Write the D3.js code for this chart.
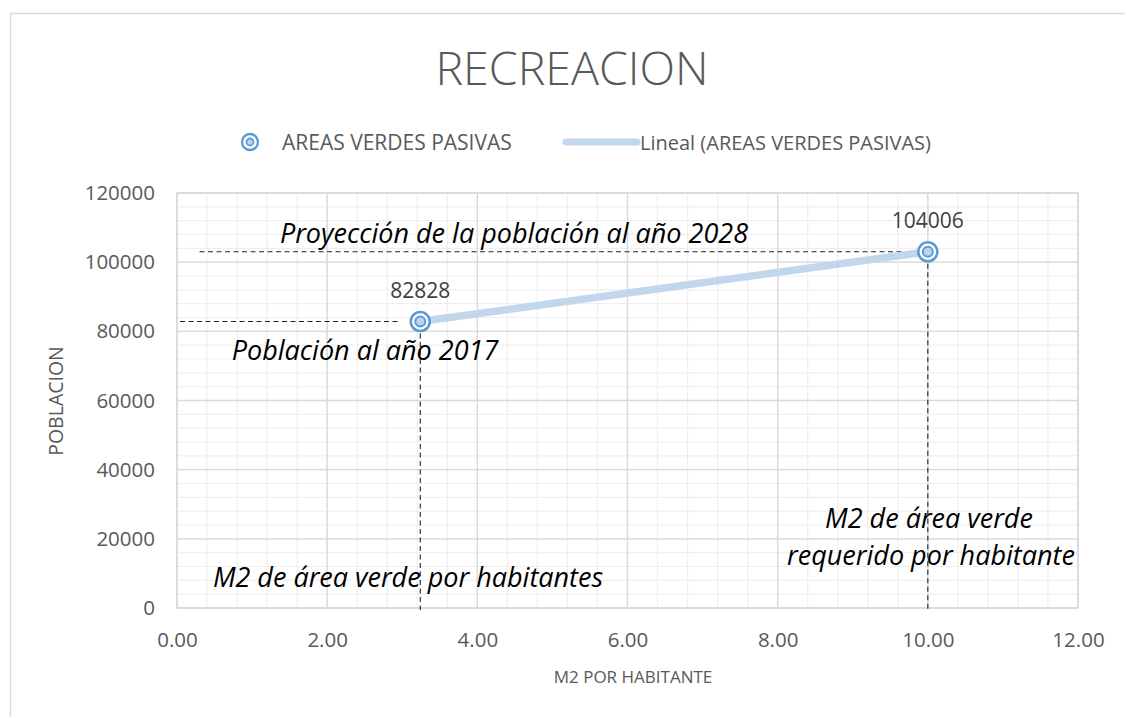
<!DOCTYPE html>
<html>
  <head>
    <meta http-equiv="Content-Type" content="text/html;charset=utf-8"/>
    <title>RECREACION</title>
    <script src="https://d3js.org/d3.v7.min.js"></script>
    <style>
      body { margin: 0; background: #fff; }
      text { font-family: "Open Sans", sans-serif; }
    </style>
  </head>
  <body>
    <div id="chart"></div>
    <script type="text/javascript">
      // data
      const xValues = [3.24, 10.0]
      const yValues = [82828, 103006]
      const pointLabels = ['82828', '104006']
      const xTicks = [0, 2, 4, 6, 8, 10, 12]
      const yTicks = [0, 20000, 40000, 60000, 80000, 100000, 120000]
      const seriesName = 'AREAS VERDES PASIVAS'
      const trendName = 'Lineal (AREAS VERDES PASIVAS)'

      const width = 1125, height = 717
      const plotLeft = 177, plotRight = 1078, plotTop = 193, plotBottom = 608
      const blue = '#5b9bd5', trendColor = '#c2d6ec'

      const svg = d3.select('#chart').append('svg').attr('width', width).attr('height', height)

      // chart outer border
      svg.append('rect').attr('x', 10.5).attr('y', 13.5).attr('width', 1130).attr('height', 720)
        .attr('fill', '#fff').attr('stroke', '#d9d9d9').attr('stroke-width', 1.5)

      const x = d3.scaleLinear().domain([0, 12]).range([plotLeft, plotRight])
      const y = d3.scaleLinear().domain([0, 120000]).range([plotBottom, plotTop])

      // minor grid
      const g = svg.append('g')
      const minorX = d3.range(0, 12.001, 0.4)
      const minorY = d3.range(0, 120001, 4000)
      g.selectAll('.mx').data(minorX).enter().append('line')
        .attr('x1', d => x(d)).attr('x2', d => x(d)).attr('y1', plotTop).attr('y2', plotBottom)
        .attr('stroke', '#efefef').attr('stroke-width', 1.2)
      g.selectAll('.my').data(minorY).enter().append('line')
        .attr('x1', plotLeft).attr('x2', plotRight).attr('y1', d => y(d)).attr('y2', d => y(d))
        .attr('stroke', '#efefef').attr('stroke-width', 1.2)
      // major grid
      g.selectAll('.Mx').data(xTicks).enter().append('line')
        .attr('x1', d => x(d)).attr('x2', d => x(d)).attr('y1', plotTop).attr('y2', plotBottom)
        .attr('stroke', '#d9d9d9').attr('stroke-width', 1.3)
      g.selectAll('.My').data(yTicks).enter().append('line')
        .attr('x1', plotLeft).attr('x2', plotRight).attr('y1', d => y(d)).attr('y2', d => y(d))
        .attr('stroke', '#d9d9d9').attr('stroke-width', 1.3)
      g.append('rect').attr('x', plotLeft).attr('y', plotTop).attr('width', plotRight - plotLeft).attr('height', plotBottom - plotTop)
        .attr('fill', 'none').attr('stroke', '#d9d9d9').attr('stroke-width', 1.3)

      // axes labels
      const xAxis = d3.axisBottom(x).tickValues(xTicks).tickFormat(d3.format('.2f')).tickSize(0).tickPadding(24)
      const yAxis = d3.axisLeft(y).tickValues(yTicks).tickFormat(d3.format('d')).tickSize(0).tickPadding(22)
      const gx = svg.append('g').attr('transform', 'translate(0,' + plotBottom + ')').call(xAxis)
      const gy = svg.append('g').attr('transform', 'translate(' + plotLeft + ',0)').call(yAxis)
      ;[gx, gy].forEach(a => {
        a.select('.domain').remove()
        a.selectAll('text').attr('fill', '#595959').style('font-size', '20.5px').style('font-family', '"Open Sans", sans-serif')
      })

      // title and axis titles
      svg.append('text').attr('x', 572).attr('y', 85).attr('text-anchor', 'middle')
        .attr('fill', '#595959').style('font-size', '46.5px').style('font-weight', 300).text('RECREACION')
      svg.append('text').attr('x', 633).attr('y', 683).attr('text-anchor', 'middle')
        .attr('fill', '#595959').style('font-size', '17px').text('M2 POR HABITANTE')
      svg.append('text').attr('transform', 'translate(63,401) rotate(-90)').attr('text-anchor', 'middle')
        .attr('fill', '#595959').style('font-size', '19.5px').text('POBLACION')

      // legend
      const lg = svg.append('g')
      lg.append('circle').attr('cx', 250).attr('cy', 142).attr('r', 8).attr('fill', '#fff').attr('stroke', blue).attr('stroke-width', 2.3)
      lg.append('circle').attr('cx', 250).attr('cy', 142).attr('r', 3.5).attr('fill', '#bdd3ea').attr('stroke', blue).attr('stroke-width', 1.8)
      lg.append('text').attr('x', 282).attr('y', 149.5).attr('fill', '#595959').style('font-size', '21px').text(seriesName)
      lg.append('line').attr('x1', 566).attr('x2', 637).attr('y1', 142).attr('y2', 142)
        .attr('stroke', trendColor).attr('stroke-width', 7).attr('stroke-linecap', 'round')
      lg.append('text').attr('x', 640).attr('y', 149.5).attr('fill', '#595959').style('font-size', '20px').text(trendName)

      // dashed guide lines
      const dash = svg.append('g').attr('stroke', '#222').attr('stroke-width', 1.1).attr('stroke-dasharray', '5,3.5')
      dash.append('line').attr('x1', x(0.04)).attr('x2', x(xValues[0]) - 20).attr('y1', y(yValues[0])).attr('y2', y(yValues[0]))
      dash.append('line').attr('x1', x(xValues[0])).attr('x2', x(xValues[0])).attr('y1', y(yValues[0]) + 12).attr('y2', plotBottom + 2)
      dash.append('line').attr('x1', x(0.3)).attr('x2', x(xValues[1]) - 20).attr('y1', y(yValues[1])).attr('y2', y(yValues[1]))
      dash.append('line').attr('x1', x(xValues[1])).attr('x2', x(xValues[1])).attr('y1', y(yValues[1]) + 12).attr('y2', plotBottom + 2)

      // linear trend line (least squares)
      const mx = d3.mean(xValues), my = d3.mean(yValues)
      const slope = d3.sum(xValues, (d, i) => (d - mx) * (yValues[i] - my)) / d3.sum(xValues, d => (d - mx) * (d - mx))
      const icpt = my - slope * mx
      const xMin = d3.min(xValues), xMax = d3.max(xValues)
      svg.append('line').attr('x1', x(xMin)).attr('y1', y(icpt + slope * xMin))
        .attr('x2', x(xMax)).attr('y2', y(icpt + slope * xMax))
        .attr('stroke', trendColor).attr('stroke-width', 7.5)

      // markers
      const pts = svg.selectAll('.pt').data(xValues).enter().append('g')
        .attr('transform', (d, i) => 'translate(' + x(d) + ',' + y(yValues[i]) + ')')
      pts.append('circle').attr('r', 9.5).attr('fill', '#fff').attr('stroke', blue).attr('stroke-width', 2.6)
      pts.append('circle').attr('r', 5).attr('fill', '#bdd3ea').attr('stroke', blue).attr('stroke-width', 2)
      pts.append('text').attr('y', -24).attr('text-anchor', 'middle').attr('fill', '#404040')
        .style('font-size', '21px').text((d, i) => pointLabels[i])

      // annotations
      const ann = svg.append('g').attr('fill', '#000').style('font-style', 'italic').style('font-size', '27px')
      ann.append('text').attr('x', 514).attr('y', 243).attr('text-anchor', 'middle').text('Proyección de la población al año 2028')
      ann.append('text').attr('x', 365).attr('y', 360).attr('text-anchor', 'middle').text('Población al año 2017')
      ann.append('text').attr('x', 408).attr('y', 587).attr('text-anchor', 'middle').text('M2 de área verde por habitantes')
      ann.append('text').attr('x', 929).attr('y', 528).attr('text-anchor', 'middle').text('M2 de área verde')
      ann.append('text').attr('x', 931).attr('y', 565).attr('text-anchor', 'middle').text('requerido por habitante')
    </script>
  </body>
</html>
